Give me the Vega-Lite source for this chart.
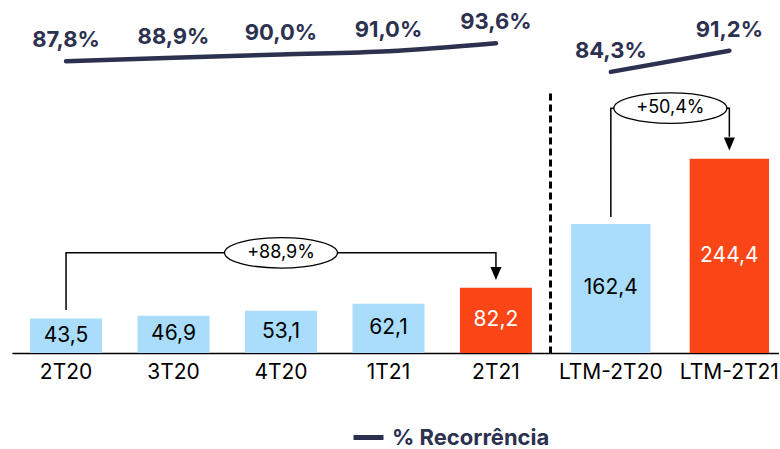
{
  "$schema": "https://vega.github.io/schema/vega-lite/v6.json",
  "padding": {"left": 12, "top": 5, "right": 0, "bottom": 60},
  "background": "white",
  "spacing": 0,
  "bounds": "flush",
  "columns": 2,
  "config": {
    "view": {"stroke": null},
    "font": "Inter",
    "locale": {"number": {"decimal": ",", "thousands": ".", "grouping": [3], "currency": ["R$ ", ""]}},
    "axis": {"grid": false}
  },
  "datasets": {
    "trimestres": [
      {"periodo": "2T20", "receita": 43.5, "recorrencia": 0.878, "destaque": "anterior"},
      {"periodo": "3T20", "receita": 46.9, "recorrencia": 0.889, "destaque": "anterior"},
      {"periodo": "4T20", "receita": 53.1, "recorrencia": 0.900, "destaque": "anterior"},
      {"periodo": "1T21", "receita": 62.1, "recorrencia": 0.910, "destaque": "anterior"},
      {"periodo": "2T21", "receita": 82.2, "recorrencia": 0.936, "destaque": "atual"}
    ],
    "ltm": [
      {"periodo": "LTM-2T20", "receita": 162.4, "recorrencia": 0.843, "destaque": "anterior"},
      {"periodo": "LTM-2T21", "receita": 244.4, "recorrencia": 0.912, "destaque": "atual"}
    ],
    "chaveT": [
      {"periodo": "2T20", "valor": 54, "ordem": 1},
      {"periodo": "2T20", "valor": 126, "ordem": 2},
      {"periodo": "2T21", "valor": 126, "ordem": 3},
      {"periodo": "2T21", "valor": 107, "ordem": 4}
    ],
    "pontaT": [{"periodo": "2T21", "valor": 100}],
    "rotuloT": [{"periodo": "4T20", "valor": 126, "texto": "+88,9%"}],
    "chaveLTM": [
      {"periodo": "LTM-2T20", "valor": 171, "ordem": 1},
      {"periodo": "LTM-2T20", "valor": 308, "ordem": 2},
      {"periodo": "LTM-2T21", "valor": 308, "ordem": 3},
      {"periodo": "LTM-2T21", "valor": 272, "ordem": 4}
    ],
    "pontaLTM": [{"periodo": "LTM-2T21", "valor": 263}],
    "rotuloLTM": [{"periodo": "LTM-2T20", "valor": 308, "texto": "+50,4%"}]
  },
  "concat": [
    {
      "width": 538,
      "height": 85,
      "data": {"name": "trimestres"},
      "encoding": {
        "x": {"field": "periodo", "type": "nominal", "sort": null, "scale": {"type": "band", "domain": ["2T20", "3T20", "4T20", "1T21", "2T21"], "paddingInner": 0.33, "paddingOuter": 0.168}, "axis": null},
        "y": {"field": "recorrencia", "type": "quantitative", "scale": {"domain": [0.784, 1.061], "zero": false, "nice": false}, "axis": null}
      },
      "layer": [
        {
          "mark": {"type": "line", "strokeWidth": 4.5, "strokeCap": "round", "interpolate": "monotone"},
          "encoding": {
            "color": {"datum": "% Recorrência", "type": "nominal", "scale": {"range": ["#2d3150"]},
              "legend": {"orient": "none", "legendX": 339, "legendY": 415, "title": null, "symbolType": "stroke", "symbolStrokeWidth": 5, "symbolSize": 900, "labelFont": "Inter", "labelFontWeight": "bold", "labelFontSize": 22, "labelColor": "#2d3150", "labelOffset": 6, "padding": 0}}
          }
        },
        {
          "mark": {"type": "text", "dy": -21, "fontSize": 22, "fontWeight": "bold", "color": "#2d3150", "baseline": "middle", "font": "Inter"},
          "encoding": {"text": {"field": "recorrencia", "type": "quantitative", "format": ".1%"}}
        }
      ]
    },
    {
      "width": 229,
      "height": 85,
      "data": {"name": "ltm"},
      "encoding": {
        "x": {"field": "periodo", "type": "nominal", "sort": null, "scale": {"type": "band", "domain": ["LTM-2T20", "LTM-2T21"], "paddingInner": 0.33, "paddingOuter": 0.131, "align": 0.68}, "axis": null},
        "y": {"field": "recorrencia", "type": "quantitative", "scale": {"domain": [0.784, 1.061], "zero": false, "nice": false}, "axis": null}
      },
      "layer": [
        {
          "mark": {"type": "line", "strokeWidth": 4.5, "strokeCap": "round", "interpolate": "monotone"},
          "encoding": {
            "color": {"datum": "% Recorrência", "type": "nominal", "scale": {"range": ["#2d3150"]},
              "legend": {"orient": "none", "legendX": 339, "legendY": 415, "title": null, "symbolType": "stroke", "symbolStrokeWidth": 5, "symbolSize": 900, "labelFont": "Inter", "labelFontWeight": "bold", "labelFontSize": 22, "labelColor": "#2d3150", "labelOffset": 6, "padding": 0}}
          }
        },
        {
          "mark": {"type": "text", "dy": -21, "fontSize": 22, "fontWeight": "bold", "color": "#2d3150", "baseline": "middle", "font": "Inter"},
          "encoding": {"text": {"field": "recorrencia", "type": "quantitative", "format": ".1%"}}
        }
      ]
    },
    {
      "width": 538,
      "height": 263,
      "encoding": {
        "x": {"field": "periodo", "type": "nominal", "sort": null, "scale": {"type": "band", "domain": ["2T20", "3T20", "4T20", "1T21", "2T21"], "paddingInner": 0.33, "paddingOuter": 0.168},
          "axis": {"title": null, "labelAngle": 0, "ticks": false, "domainColor": "black", "domainWidth": 1.5, "labelFontSize": 21, "labelColor": "black", "labelPadding": 8, "labelFont": "Inter"}}
      },
      "layer": [
        {
          "data": {"name": "trimestres"},
          "mark": {"type": "bar"},
          "encoding": {
            "y": {"field": "receita", "type": "quantitative", "scale": {"domain": [0, 330.8], "nice": false}, "axis": null},
            "color": {"condition": {"test": "datum.destaque === 'atual'", "value": "#fa4616"}, "value": "#a9ddfb"}
          }
        },
        {
          "data": {"name": "trimestres"},
          "transform": [{"calculate": "datum.receita / 2", "as": "meio"}],
          "mark": {"type": "text", "fontSize": 21, "baseline": "middle", "font": "Inter"},
          "encoding": {
            "y": {"field": "meio", "type": "quantitative", "axis": null},
            "text": {"field": "receita", "type": "quantitative", "format": ".1f"},
            "color": {"condition": {"test": "datum.destaque === 'atual'", "value": "white"}, "value": "black"}
          }
        },
        {
          "data": {"name": "chaveT"},
          "mark": {"type": "line", "color": "black", "strokeWidth": 1.5},
          "encoding": {
            "y": {"field": "valor", "type": "quantitative", "axis": null},
            "order": {"field": "ordem", "type": "quantitative"}
          }
        },
        {
          "data": {"name": "pontaT"},
          "mark": {"type": "point", "shape": "M-0.85,-1L0.85,-1L0,1Z", "size": 169, "filled": true, "color": "black", "opacity": 1, "strokeWidth": 0},
          "encoding": {"y": {"field": "valor", "type": "quantitative", "axis": null}}
        },
        {
          "data": {"name": "rotuloT"},
          "mark": {"type": "point", "shape": "M-1,0A1,0.27,0,1,0,1,0A1,0.27,0,1,0,-1,0Z", "size": 12769, "filled": true, "fill": "white", "stroke": "black", "strokeWidth": 1.3, "opacity": 1},
          "encoding": {"y": {"field": "valor", "type": "quantitative", "axis": null}}
        },
        {
          "data": {"name": "rotuloT"},
          "mark": {"type": "text", "fontSize": 18, "baseline": "middle", "color": "black", "font": "Inter"},
          "encoding": {
            "y": {"field": "valor", "type": "quantitative", "axis": null},
            "text": {"field": "texto"}
          }
        }
      ]
    },
    {
      "width": 229,
      "height": 263,
      "encoding": {
        "x": {"field": "periodo", "type": "nominal", "sort": null, "scale": {"type": "band", "domain": ["LTM-2T20", "LTM-2T21"], "paddingInner": 0.33, "paddingOuter": 0.131, "align": 0.68},
          "axis": {"title": null, "labelAngle": 0, "ticks": false, "domainColor": "black", "domainWidth": 1.5, "labelFontSize": 21, "labelColor": "black", "labelPadding": 8, "labelFont": "Inter"}}
      },
      "layer": [
        {
          "data": {"name": "ltm"},
          "mark": {"type": "bar"},
          "encoding": {
            "y": {"field": "receita", "type": "quantitative", "scale": {"domain": [0, 330.8], "nice": false},
              "axis": {"title": null, "labels": false, "ticks": false, "grid": false, "domain": true, "domainColor": "black", "domainWidth": 3, "domainDash": [7, 4]}},
            "color": {"condition": {"test": "datum.destaque === 'atual'", "value": "#fa4616"}, "value": "#a9ddfb"}
          }
        },
        {
          "data": {"name": "ltm"},
          "transform": [{"calculate": "datum.receita / 2", "as": "meio"}],
          "mark": {"type": "text", "fontSize": 21, "baseline": "middle", "font": "Inter"},
          "encoding": {
            "y": {"field": "meio", "type": "quantitative",
              "axis": {"title": null, "labels": false, "ticks": false, "grid": false, "domain": true, "domainColor": "black", "domainWidth": 3, "domainDash": [7, 4]}},
            "text": {"field": "receita", "type": "quantitative", "format": ".1f"},
            "color": {"condition": {"test": "datum.destaque === 'atual'", "value": "white"}, "value": "black"}
          }
        },
        {
          "data": {"name": "chaveLTM"},
          "mark": {"type": "line", "color": "black", "strokeWidth": 1.5},
          "encoding": {
            "y": {"field": "valor", "type": "quantitative",
              "axis": {"title": null, "labels": false, "ticks": false, "grid": false, "domain": true, "domainColor": "black", "domainWidth": 3, "domainDash": [7, 4]}},
            "order": {"field": "ordem", "type": "quantitative"}
          }
        },
        {
          "data": {"name": "pontaLTM"},
          "mark": {"type": "point", "shape": "M-0.85,-1L0.85,-1L0,1Z", "size": 169, "filled": true, "color": "black", "opacity": 1, "strokeWidth": 0},
          "encoding": {"y": {"field": "valor", "type": "quantitative",
              "axis": {"title": null, "labels": false, "ticks": false, "grid": false, "domain": true, "domainColor": "black", "domainWidth": 3, "domainDash": [7, 4]}}}
        },
        {
          "data": {"name": "rotuloLTM"},
          "mark": {"type": "point", "shape": "M-1,0A1,0.27,0,1,0,1,0A1,0.27,0,1,0,-1,0Z", "size": 12769, "filled": true, "fill": "white", "stroke": "black", "strokeWidth": 1.3, "opacity": 1},
          "encoding": {
            "x": {"field": "periodo", "type": "nominal", "sort": null, "bandPosition": 1.25,
              "axis": {"title": null, "labelAngle": 0, "ticks": false, "domainColor": "black", "domainWidth": 1.5, "labelFontSize": 21, "labelColor": "black", "labelPadding": 8, "labelFont": "Inter"}},
            "y": {"field": "valor", "type": "quantitative",
              "axis": {"title": null, "labels": false, "ticks": false, "grid": false, "domain": true, "domainColor": "black", "domainWidth": 3, "domainDash": [7, 4]}}
          }
        },
        {
          "data": {"name": "rotuloLTM"},
          "mark": {"type": "text", "fontSize": 18, "baseline": "middle", "color": "black", "font": "Inter"},
          "encoding": {
            "x": {"field": "periodo", "type": "nominal", "sort": null, "bandPosition": 1.25,
              "axis": {"title": null, "labelAngle": 0, "ticks": false, "domainColor": "black", "domainWidth": 1.5, "labelFontSize": 21, "labelColor": "black", "labelPadding": 8, "labelFont": "Inter"}},
            "y": {"field": "valor", "type": "quantitative",
              "axis": {"title": null, "labels": false, "ticks": false, "grid": false, "domain": true, "domainColor": "black", "domainWidth": 3, "domainDash": [7, 4]}},
            "text": {"field": "texto"}
          }
        }
      ]
    }
  ],
  "resolve": {"scale": {"x": "independent", "y": "independent", "color": "shared"}}
}
